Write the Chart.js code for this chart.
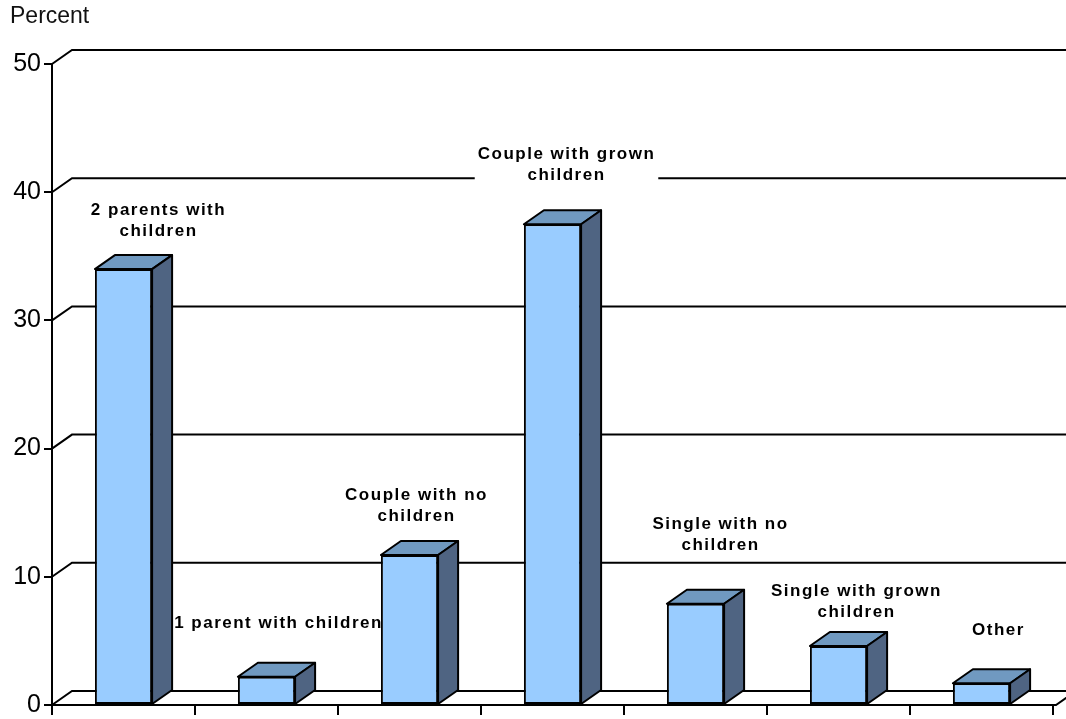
<!DOCTYPE html>
<html>
<head>
<meta charset="utf-8">
<script src="https://cdn.jsdelivr.net/npm/chart.js@4.4.1/dist/chart.umd.min.js"></script>
<style>
  html, body { margin: 0; padding: 0; background: #fff; }
  #wrap { width: 1066px; height: 719px; }
</style>
</head>
<body>
<div id="wrap"><canvas id="chart" width="1066" height="719"></canvas></div>
<script>
// data
const categories = [
  ['2 parents with', 'children'],
  ['1 parent with children'],
  ['Couple with no', 'children'],
  ['Couple with grown', 'children'],
  ['Single with no', 'children'],
  ['Single with grown', 'children'],
  ['Other']
];
const percents = [34.0, 2.2, 11.7, 37.5, 7.9, 4.6, 1.7];
const yTicks = [0, 10, 20, 30, 40, 50];

// label placement relative to the front top of each bar (layout only)
const labelShift = [[35, -38], [12, -53], [7, -39], [14, -49], [25, -58], [18, -34], [17, -53]];

const DEPTH_X = 20, DEPTH_Y = -14;
const FRONT = '#99CCFF', TOP = '#7099C0', SIDE = '#4F6482';

const box3d = {
  id: 'box3d',
  beforeDatasetsDraw(chart) {
    const { ctx, scales: { x, y } } = chart;
    const left = x.left;
    ctx.save();
    ctx.strokeStyle = '#000';
    ctx.lineWidth = 2;
    yTicks.forEach(v => {
      const py = y.getPixelForValue(v);
      ctx.beginPath();
      ctx.moveTo(left, py);
      ctx.lineTo(left + DEPTH_X, py + DEPTH_Y);
      ctx.lineTo(chart.width, py + DEPTH_Y);
      ctx.stroke();
    });
    // front floor edge + right edge
    const py0 = y.getPixelForValue(0);
    ctx.beginPath();
    ctx.moveTo(left, py0);
    ctx.lineTo(x.right + 3, py0);
    ctx.lineTo(x.right + 3 + DEPTH_X, py0 + DEPTH_Y);
    ctx.stroke();

    // category labels with white boxes (behind the bars, over the grid)
    const meta = chart.getDatasetMeta(0);
    ctx.font = 'bold 17px "Liberation Sans", Arial, sans-serif';
    ctx.letterSpacing = '1.5px';
    ctx.textAlign = 'center';
    ctx.textBaseline = 'middle';
    const lineH = 21;
    meta.data.forEach((bar, i) => {
      const lines = categories[i];
      const cx = bar.x + labelShift[i][0];
      const lastY = bar.y + labelShift[i][1];
      const w = Math.max(...lines.map(s => ctx.measureText(s).width)) + 6;
      const top = lastY - (lines.length - 1) * lineH - 12;
      const h = (lines.length - 1) * lineH + 24;
      ctx.fillStyle = '#fff';
      ctx.fillRect(cx - w / 2, top, w, h);
      ctx.fillStyle = '#000';
      lines.forEach((s, k) => {
        ctx.fillText(s, cx, lastY - (lines.length - 1 - k) * lineH);
      });
    });
    ctx.restore();
  },
  afterDatasetsDraw(chart) {
    const { ctx } = chart;
    const meta = chart.getDatasetMeta(0);
    ctx.save();
    ctx.strokeStyle = '#000';
    ctx.lineWidth = 2;
    ctx.lineJoin = 'round';
    meta.data.forEach(bar => {
      const l = bar.x - bar.width / 2, r = bar.x + bar.width / 2;
      const t = bar.y, b = bar.base;
      ctx.fillStyle = TOP;
      ctx.beginPath();
      ctx.moveTo(l, t);
      ctx.lineTo(l + DEPTH_X, t + DEPTH_Y);
      ctx.lineTo(r + DEPTH_X, t + DEPTH_Y);
      ctx.lineTo(r, t);
      ctx.closePath();
      ctx.fill(); ctx.stroke();
      ctx.fillStyle = SIDE;
      ctx.beginPath();
      ctx.moveTo(r, t);
      ctx.lineTo(r + DEPTH_X, t + DEPTH_Y);
      ctx.lineTo(r + DEPTH_X, b + DEPTH_Y);
      ctx.lineTo(r, b);
      ctx.closePath();
      ctx.fill(); ctx.stroke();
    });

    // axis title
    ctx.font = '23px "Liberation Sans", Arial, sans-serif';
    ctx.textAlign = 'left';
    ctx.textBaseline = 'middle';
    ctx.fillStyle = '#111';
    ctx.fillText('Percent', 10, 17);
    ctx.restore();
  }
};

new Chart(document.getElementById('chart'), {
  type: 'bar',
  data: {
    labels: categories,
    datasets: [{
      data: percents,
      backgroundColor: FRONT,
      borderColor: '#000',
      borderWidth: 2,
      borderSkipped: false,
      barPercentage: 0.4,
      categoryPercentage: 1.0
    }]
  },
  options: {
    responsive: false,
    animation: false,
    events: [],
    layout: { padding: { top: 64, right: 13, left: 0, bottom: 0 } },
    plugins: { legend: { display: false }, tooltip: { enabled: false } },
    scales: {
      x: {
        offset: true,
        ticks: { display: false },
        grid: { offset: true, drawOnChartArea: false, tickLength: 10, color: '#000', lineWidth: 2 },
        border: { display: false },
        afterFit(scale) { scale.height = 14; }
      },
      y: {
        min: 0, max: 50,
        ticks: {
          stepSize: 10, padding: 3, color: '#000',
          font: { family: '"Liberation Sans", Arial, sans-serif', size: 25 }
        },
        grid: { drawOnChartArea: false, tickLength: 8, color: '#000', lineWidth: 2 },
        border: { display: true, color: '#000', width: 2 },
        afterFit(scale) {
          scale.width = 52;
          scale.paddingTop = 0;
          scale.paddingBottom = 0;
        }
      }
    }
  },
  plugins: [box3d]
});
</script>
</body>
</html>
